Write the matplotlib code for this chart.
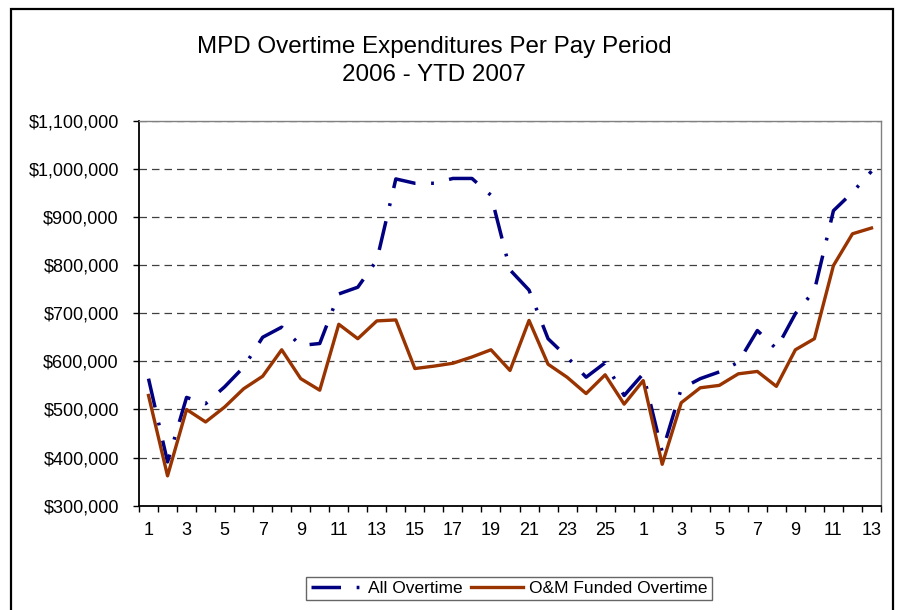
import matplotlib.pyplot as plt
from matplotlib.patches import Rectangle
from matplotlib.ticker import FuncFormatter, FixedLocator

plt.rcParams['font.family'] = ['Liberation Sans', 'DejaVu Sans']

# pay periods: 26 in 2006, 13 so far in 2007
periods_2006 = list(range(1, 27))
periods_2007 = list(range(1, 14))
period_labels = [str(p) for p in periods_2006 + periods_2007]

all_overtime = [
    564000, 391000, 525000, 512000, 547000, 588000, 650000, 671000, 633000, 637000,
    740000, 754000, 810000, 979000, 970000, 970000, 980000, 980000, 945000, 790000,
    748000, 647000, 609000, 567000, 597000, 529000,
    574000, 412000, 543000, 564000, 578000, 598000, 664000, 626000, 699000, 747000,
    913000, 951000, 995000,
]
om_funded = [
    529000, 362000, 500000, 474000, 505000, 543000, 569000, 624000, 564000, 540000,
    677000, 647000, 684000, 686000, 585000, 590000, 596000, 609000, 624000, 581000,
    685000, 594000, 567000, 533000, 572000, 511000,
    560000, 386000, 514000, 545000, 550000, 574000, 579000, 548000, 624000, 647000,
    799000, 865000, 877000,
]

W, H = 898, 610
fig = plt.figure(figsize=(W / 100, H / 100), dpi=100)

# outer chart border
fig.patches.append(Rectangle((11 / W, -0.05), 882 / W, 1.05 - 9 / H,
                             transform=fig.transFigure, fill=False,
                             edgecolor='black', linewidth=1.6, zorder=0))

ax = fig.add_axes([139 / W, (H - 505.7) / H, 742 / W, 385 / H])

x = list(range(len(period_labels)))
ax.plot(x, all_overtime, color='#000080', linewidth=2.5,
        linestyle=(0, (8.5, 4.5, 0.8, 4.5)), dash_capstyle='butt',
        label='All Overtime', zorder=3)
ax.plot(x, om_funded, color='#993300', linewidth=2.4,
        label='O&M Funded Overtime', zorder=4)

ax.set_xlim(-0.5, len(x) - 0.5)
ax.set_ylim(300000, 1100000)
ax.set_yticks(range(300000, 1100001, 100000))
ax.yaxis.set_major_formatter(FuncFormatter(lambda v, p: '${:,.0f}'.format(v)))
ax.tick_params(axis='y', direction='out', length=4.5, width=1, pad=10,
               labelsize=13, color='black')

ax.set_xticks(x[::2])
ax.set_xticklabels(period_labels[::2])
ax.xaxis.set_minor_locator(FixedLocator([i - 0.5 for i in range(len(x) + 1)]))
ax.tick_params(axis='x', which='major', length=0, pad=12, labelsize=13)
ax.tick_params(axis='x', which='minor', direction='out', length=4.5, width=1, color='black')

ax.grid(axis='y', color='#404040', linestyle=(0, (6, 4)), linewidth=0.9)
ax.set_axisbelow(True)
for s in ['left', 'bottom']:
    ax.spines[s].set_color('black')
    ax.spines[s].set_linewidth(1.3)
for s in ['top', 'right']:
    ax.spines[s].set_color('#808080')
    ax.spines[s].set_linewidth(1.0)

fig.text(434 / W, 1 - 61 / H, 'MPD Overtime Expenditures Per Pay Period\n2006 - YTD 2007',
         ha='center', va='center', fontsize=17.4, linespacing=1.38)

leg = fig.legend(loc='center', bbox_to_anchor=(509 / W, 21.5 / H), ncol=2,
                 fontsize=12.5, frameon=True, fancybox=False, handlelength=3.0,
                 handletextpad=0.3, columnspacing=0.5, borderpad=0.25)
leg.get_frame().set_edgecolor('#404040')
leg.get_frame().set_linewidth(1.0)

fig.savefig('out.png', dpi=100)
